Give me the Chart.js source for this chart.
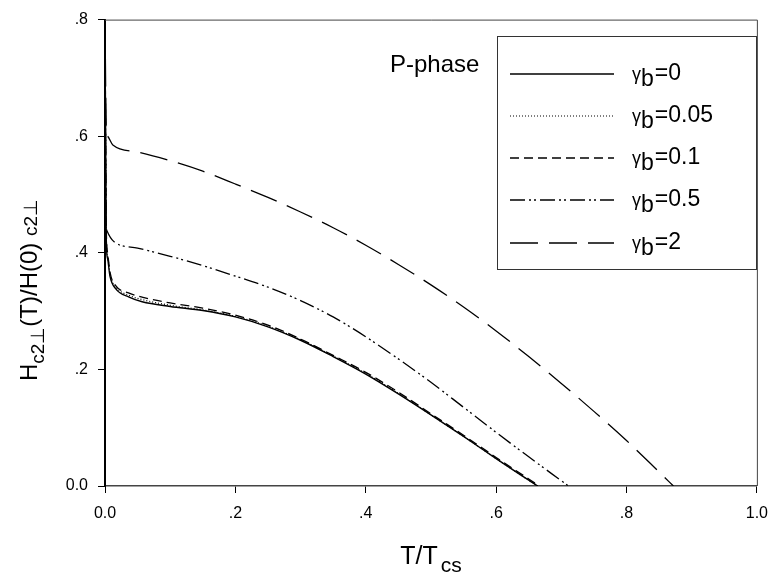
<!DOCTYPE html>
<html>
<head>
<meta charset="utf-8">
<script src="https://cdn.jsdelivr.net/npm/chart.js"></script>
<style>
  html, body { margin: 0; padding: 0; background: #fff; }
  #wrap { width: 779px; height: 578px; position: relative; }
</style>
</head>
<body>
<div id="wrap"><canvas id="c" width="779" height="578"></canvas></div>
<script>
// T/Tcs and Hc2(T)/Hc2(0), one pair of arrays per gamma_b
const tG0   = [0, 0.002, 0.004, 0.0076, 0.0166, 0.037, 0.057, 0.1, 0.15, 0.2, 0.25, 0.3, 0.35, 0.4, 0.45, 0.5, 0.55, 0.6, 0.65, 0.664];
const hG0   = [0.8, 0.42, 0.39, 0.36, 0.338, 0.324, 0.316, 0.308, 0.301, 0.29, 0.273, 0.25, 0.222, 0.192, 0.158, 0.122, 0.085, 0.047, 0.01, 0];
const tG005 = [0, 0.002, 0.004, 0.008, 0.017, 0.037, 0.06, 0.1, 0.15, 0.2, 0.25, 0.3, 0.35, 0.4, 0.45, 0.5, 0.55, 0.6, 0.65, 0.664];
const hG005 = [0.8, 0.43, 0.395, 0.362, 0.341, 0.327, 0.319, 0.31, 0.302, 0.291, 0.274, 0.251, 0.223, 0.193, 0.159, 0.122, 0.085, 0.047, 0.01, 0];
const tG01  = [0, 0.002, 0.004, 0.008, 0.017, 0.037, 0.06, 0.1, 0.15, 0.2, 0.25, 0.3, 0.35, 0.4, 0.45, 0.5, 0.55, 0.6, 0.65, 0.666];
const hG01  = [0.8, 0.44, 0.4, 0.365, 0.343, 0.331, 0.323, 0.314, 0.305, 0.293, 0.276, 0.252, 0.224, 0.195, 0.161, 0.124, 0.087, 0.049, 0.012, 0];
const tG05  = [0, 0.002, 0.003, 0.014, 0.05, 0.1, 0.15, 0.2, 0.25, 0.3, 0.35, 0.4, 0.45, 0.5, 0.55, 0.6, 0.65, 0.7, 0.711];
const hG05  = [0.8, 0.45, 0.438, 0.419, 0.408, 0.394, 0.378, 0.36, 0.341, 0.318, 0.29, 0.256, 0.218, 0.178, 0.135, 0.092, 0.05, 0.009, 0];
const tG2   = [0, 0.002, 0.004, 0.012, 0.05, 0.1, 0.15, 0.2, 0.25, 0.3, 0.35, 0.4, 0.45, 0.5, 0.55, 0.6, 0.65, 0.7, 0.75, 0.8, 0.85, 0.872];
const hG2   = [0.8, 0.61, 0.6, 0.585, 0.573, 0.558, 0.54, 0.518, 0.495, 0.47, 0.443, 0.413, 0.38, 0.345, 0.307, 0.266, 0.222, 0.176, 0.128, 0.078, 0.024, 0];

const legendLabels = ['0', '0.05', '0.1', '0.5', '2'];
const xTicks = [0, 0.2, 0.4, 0.6, 0.8, 1.0];
const yTicks = [0, 0.2, 0.4, 0.6, 0.8];

const FONT = '"Liberation Sans", Arial, sans-serif';

function pts(xs, ys) {
  return xs.map((x, i) => ({ x, y: ys[i] }));
}

const styles = [
  { dash: [], width: 1.4 },
  { dash: [1, 2], width: 1.2 },
  { dash: [9, 5], width: 1.3 },
  { dash: [15, 4, 2, 3, 2, 4], width: 1.3 },
  { dash: [28, 11], width: 1.3 }
];

const series = [pts(tG0, hG0), pts(tG005, hG005), pts(tG01, hG01), pts(tG05, hG05), pts(tG2, hG2)];

const datasets = series.map((data, i) => ({
  label: 'γb=' + legendLabels[i],
  data,
  showLine: true,
  borderColor: '#000',
  borderWidth: styles[i].width,
  borderDash: styles[i].dash,
  pointRadius: 0,
  fill: false,
  cubicInterpolationMode: 'monotone'
}));

function fmt(v) {
  if (Math.abs(v) < 1e-9) return '0.0';
  if (Math.abs(v - 1) < 1e-9) return '1.0';
  return v.toFixed(1).replace(/^0/, '');
}

// titles with subscripts, legend box and frame
const decor = {
  id: 'decor',
  afterDraw(chart) {
    const ctx = chart.ctx;
    const a = chart.chartArea;
    ctx.save();

    // top and right frame lines
    ctx.strokeStyle = '#444';
    ctx.lineWidth = 1;
    ctx.beginPath();
    ctx.moveTo(a.left, a.top + 0.5);
    ctx.lineTo(a.right + 0.5, a.top + 0.5);
    ctx.lineTo(a.right + 0.5, a.bottom);
    ctx.stroke();

    ctx.fillStyle = '#000';
    ctx.textBaseline = 'alphabetic';

    // x title: T/T_cs
    ctx.font = '25px ' + FONT;
    const w1 = ctx.measureText('T/T').width;
    ctx.font = '21px ' + FONT;
    const w2 = ctx.measureText('cs').width;
    let x0 = (a.left + a.right) / 2 - (w1 + w2 + 3) / 2;
    ctx.font = '25px ' + FONT;
    ctx.fillText('T/T', x0, 564);
    ctx.font = '21px ' + FONT;
    ctx.fillText('cs', x0 + w1 + 3, 572);

    // y title: H_c2⊥(T)/H(0) c2⊥
    const big = '24px ' + FONT, small = '19px ' + FONT;
    ctx.save();
    ctx.translate(37, 290);
    ctx.rotate(-Math.PI / 2);
    const parts = [
      ['H', big, 0], ['c2⊥', small, 7], ['(T)/H(0) ', big, 0], ['c2⊥', small, 0]
    ];
    let tw = 0;
    parts.forEach(p => { ctx.font = p[1]; tw += ctx.measureText(p[0]).width; });
    let cx = -tw / 2;
    parts.forEach(p => {
      ctx.font = p[1];
      ctx.fillText(p[0], cx, p[2]);
      cx += ctx.measureText(p[0]).width;
    });
    ctx.restore();

    // legend
    ctx.font = '24px ' + FONT;
    ctx.fillText('P-phase', 390, 72);
    ctx.strokeStyle = '#333';
    ctx.lineWidth = 1;
    ctx.strokeRect(497.5, 36.5, 259, 233);
    const rows = [74, 116, 158, 200, 243];
    chart.data.datasets.forEach((ds, i) => {
      const y = rows[i];
      ctx.strokeStyle = '#000';
      ctx.lineWidth = ds.borderWidth;
      ctx.setLineDash(ds.borderDash);
      ctx.beginPath();
      ctx.moveTo(510, y);
      ctx.lineTo(614, y);
      ctx.stroke();
      ctx.setLineDash([]);
      ctx.font = '18px ' + FONT;
      ctx.fillText('γ', 632, y + 6);
      const gw = ctx.measureText('γ').width;
      ctx.font = '23px ' + FONT;
      ctx.fillText('b', 632 + gw, y + 12);
      const bw = ctx.measureText('b').width;
      ctx.fillText('=' + legendLabels[i], 632 + gw + bw + 1, y + 6);
    });
    ctx.restore();
  }
};

new Chart(document.getElementById('c'), {
  type: 'scatter',
  data: { datasets },
  options: {
    responsive: false,
    animation: false,
    layout: { padding: { left: 0, right: 13, top: 10, bottom: 0 } },
    plugins: { legend: { display: false }, tooltip: { enabled: false } },
    scales: {
      x: {
        type: 'linear', min: 0, max: 1,
        afterBuildTicks: s => { s.ticks = xTicks.map(v => ({ value: v })); },
        afterFit: s => { s.height = 92; },
        grid: { drawOnChartArea: false, color: '#000', tickLength: 7, tickWidth: 1 },
        border: { color: '#444', width: 1.5 },
        ticks: { color: '#000', font: { family: FONT, size: 16 }, padding: 11, maxRotation: 0, callback: fmt }
      },
      y: {
        type: 'linear', min: 0, max: 0.8,
        afterBuildTicks: s => { s.ticks = yTicks.map(v => ({ value: v })); },
        afterFit: s => { s.width = 105; },
        grid: { drawOnChartArea: false, color: '#000', tickLength: 7, tickWidth: 1 },
        border: { color: '#000', width: 2 },
        ticks: { color: '#000', font: { family: FONT, size: 16 }, padding: 10, callback: fmt }
      }
    }
  },
  plugins: [decor]
});
</script>
</body>
</html>
